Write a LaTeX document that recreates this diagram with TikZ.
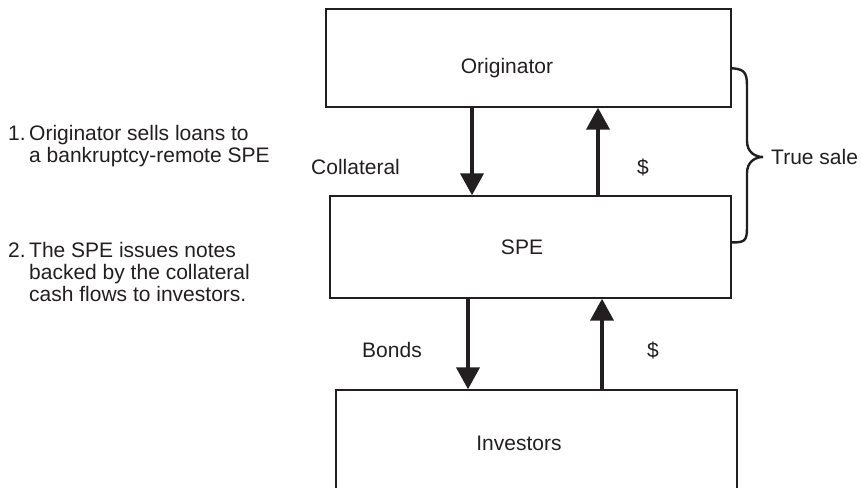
\documentclass[tikz,border=0pt]{standalone}
\usepackage{fontspec}
\setmainfont{Liberation Sans}
\usetikzlibrary{arrows.meta,calc}
\definecolor{ink}{HTML}{231F20}
\begin{document}
\begin{tikzpicture}[x=1pt,y=-1pt,
  every node/.style={text=ink,font=\fontsize{21}{22}\selectfont},
  box/.style={draw=ink,line width=1.4pt,rectangle,inner sep=0pt},
  lbl/.style={inner sep=0pt,text height=15pt,text depth=0pt},
  flow/.style={draw=ink,line width=4pt,-{Triangle[width=23pt,length=22pt]}},
  bracestyle/.style={draw=ink,line width=2.4pt,line cap=round}
  ]
\clip (0,0) rectangle (861,487);
% boxes
\node[box,minimum width=405pt,minimum height=98pt] (orig) at (528.5,58) {};
\node[box,minimum width=401pt,minimum height=102pt] (spe) at (530.5,247) {};
\node[box,minimum width=401pt,minimum height=110pt] (inv) at (536.5,445) {};
% box texts
\node[lbl] (origt) at (507,66) {Originator};
\node[lbl] (spet) at (522,247) {SPE};
\node[lbl] (invt) at (519,443) {Investors};
% flow labels
\node[lbl,anchor=west] (coll) at (311,167) {Collateral};
\node[lbl] (d1) at (643,167) {\$};
\node[lbl,anchor=west] (ts) at (771,157) {True sale};
\node[lbl] (bonds) at (392,350) {Bonds};
\node[lbl] (d2) at (653,350) {\$};
% left notes
\node[inner sep=0pt,anchor=base west] (item1) at (8,140)
  {\begin{tabular}[t]{@{}l@{\hspace{3.5pt}}l@{}}1.&Originator sells loans to\\&a bankruptcy-remote SPE\end{tabular}};
\node[inner sep=0pt,anchor=base west] (item2) at (8,257)
  {\begin{tabular}[t]{@{}l@{\hspace{3.5pt}}l@{}}2.&The SPE issues notes\\&backed by the collateral\\&cash flows to investors.\end{tabular}};
% arrows
\coordinate (xa) at (472,0);
\coordinate (xb) at (598,0);
\coordinate (xc) at (468,0);
\coordinate (xd) at (602,0);
\draw[flow] (xa |- orig.south) -- (xa |- spe.north);
\draw[flow] (xb |- spe.north) -- (xb |- orig.south);
\draw[flow] (xc |- spe.south) -- (xc |- inv.north);
\draw[flow] (xd |- inv.north) -- (xd |- spe.south);
% brace
\coordinate (bt) at ($(orig.north east)+(0,60)$);
\coordinate (bb) at ($(spe.north east)+(0,47)$);
\coordinate (tip) at (763,157);
\draw[bracestyle] (bt) .. controls (747,69) and (747,75) .. (747,90)
  -- (747,141) .. controls (747,152) and (755,157) .. (tip)
  .. controls (755,157) and (747,162) .. (747,173)
  -- (747,224) .. controls (747,239) and (747,243) .. (bb);
\end{tikzpicture}
\end{document}
